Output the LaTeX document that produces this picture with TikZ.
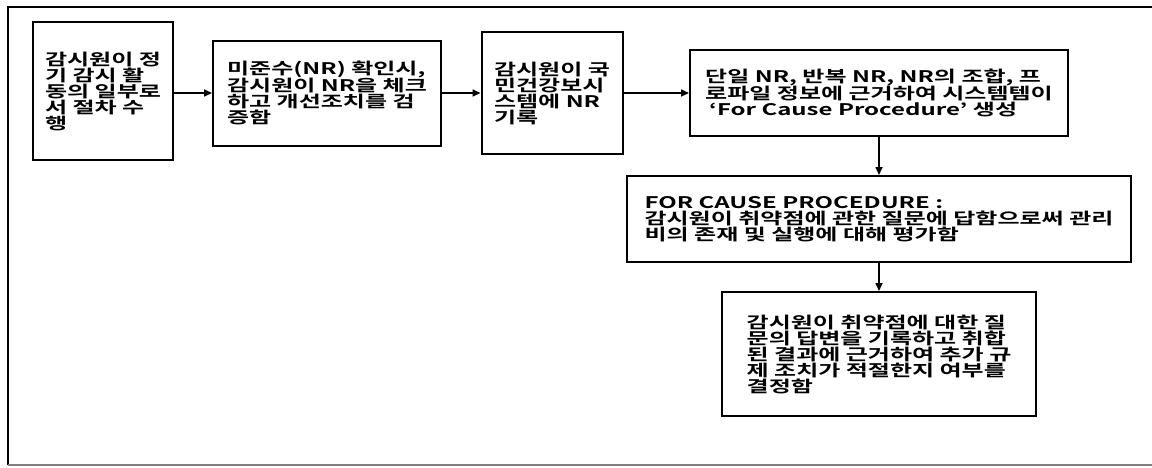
\documentclass[tikz,border=0pt]{standalone}
\usepackage{fontspec}
\newfontfamily\krfont{Noto Sans CJK KR Bold}[FakeStretch=1.5]
\usetikzlibrary{arrows.meta}

\begin{document}
\begin{tikzpicture}[x=1pt,y=-1pt,>={Triangle[length=8pt,width=7pt]},box/.style={draw,line width=2pt,align=left,inner sep=0pt,font=\krfont\fontsize{16}{16}\selectfont},link/.style={->,line width=1.6pt}]
\useasboundingbox (0,0) rectangle (1152,467);
\draw[line width=2.5pt] (8,465) -- (8,7) -- (1152,7);
\draw[gray,line width=1.5pt] (8,465) -- (1152,465);
\node[box,minimum width=140,minimum height=138] (s1) at (103,91) {감시원이 정\\기 감시 활\\동의 일부로\\서 절차 수\\행};
\node[box,minimum width=228,minimum height=105] (s2) at (327,93) {미준수(NR) 확인시,\\감시원이 NR을 체크\\하고 개선조치를 검\\증함};
\node[box,minimum width=141,minimum height=122] (s3) at (552,93) {감시원이 국\\민건강보시\\스템에 NR\\기록};
\node[box,minimum width=378,minimum height=86] (s4) at (879,93) {단일 NR, 반복 NR, NR의 조합, 프\\로파일 정보에 근거하여 시스템템이\\\hspace{4pt}‘For Cause Procedure’ 생성};
\node[box,minimum width=504,minimum height=86] (s5) at (879,219) {FOR CAUSE PROCEDURE :\\감시원이 취약점에 관한 질문에 답함으로써 관리\\비의 존재 및 실행에 대해 평가함};
\node[box,minimum width=314,minimum height=124] (s6) at (879,354) {감시원이 취약점에 대한 질\\문의 답변을 기록하고 취합\\된 결과에 근거하여 추가 규\\제 조치가 적절한지 여부를\\결정함};
\draw[link] (s1.east |- s2) -- (s2);
\draw[link] (s2) -- (s3);
\draw[link] (s3) -- (s4);
\draw[link] (s4) -- (s5);
\draw[link] (s5) -- (s6);
\end{tikzpicture}
\end{document}
